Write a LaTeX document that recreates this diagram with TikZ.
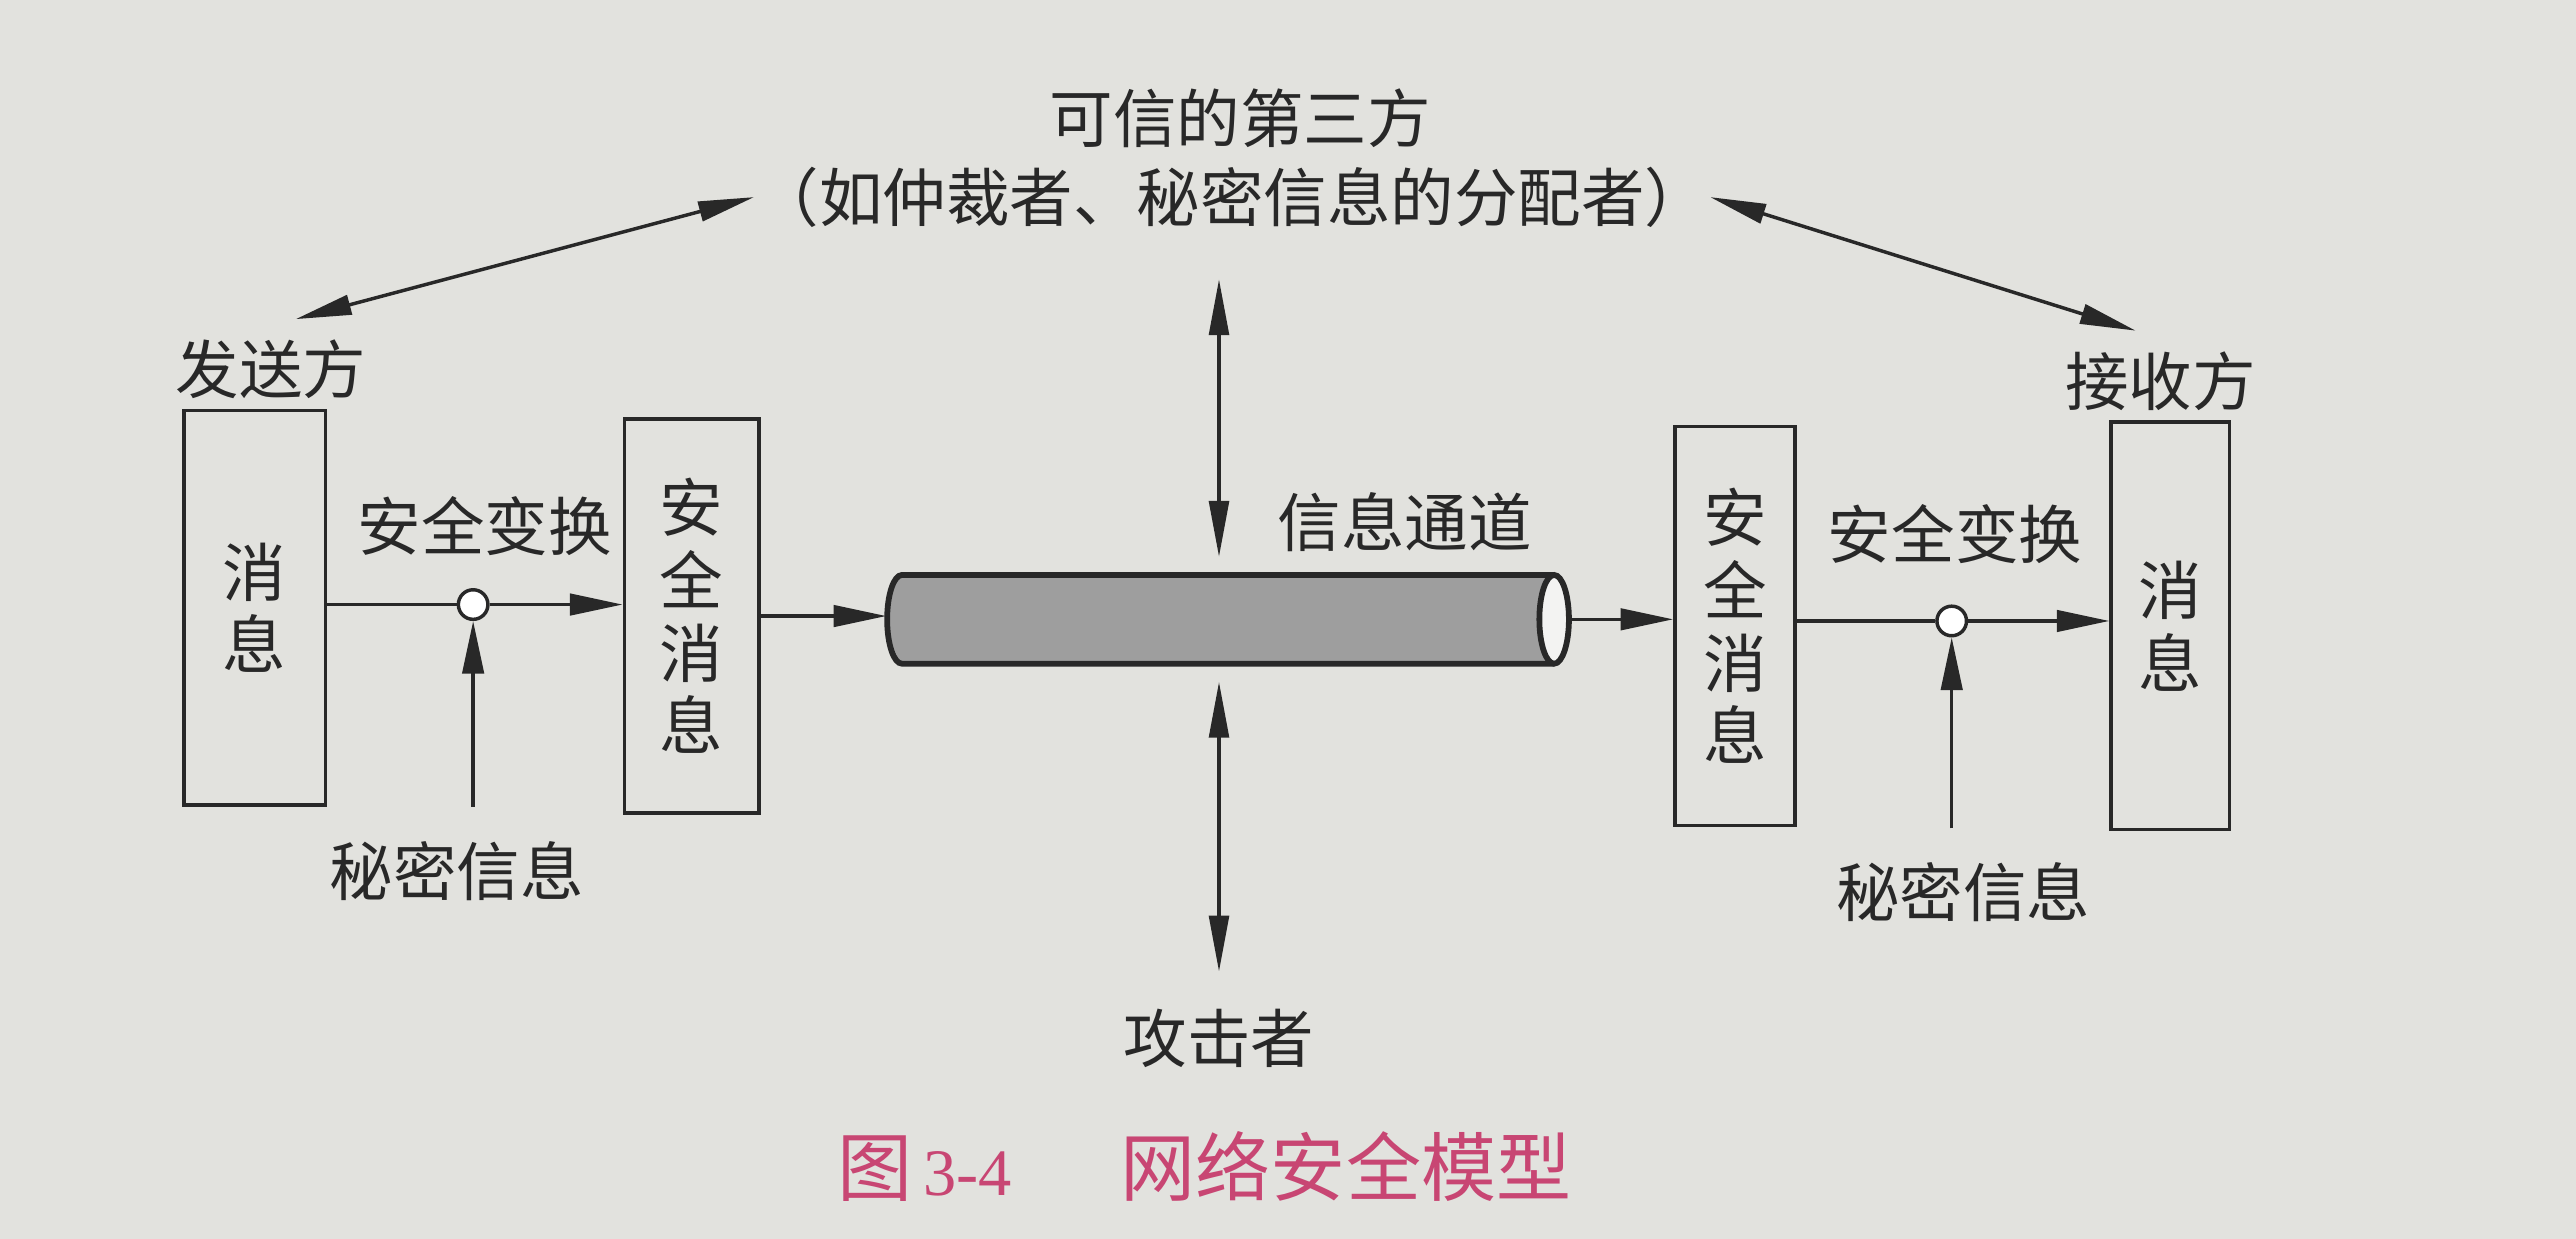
\documentclass[tikz,border=0pt]{standalone}
\usepackage{fontspec}
\newfontfamily\cjk{Noto Sans CJK SC}
\newfontfamily\capnum{Liberation Serif}
\usetikzlibrary{arrows.meta}
\definecolor{paper}{RGB}{226,226,222}
\definecolor{ink}{RGB}{40,40,40}
\definecolor{capred}{RGB}{200,70,115}
\definecolor{tubegray}{RGB}{158,158,158}

\begin{document}
\begin{tikzpicture}[x=0.1mm, y=-0.1mm, line width=0.6pt, ink,
    every node/.style={font=\cjk\fontsize{11}{12.6}\selectfont, text=ink},
    box/.style={draw, inner sep=0pt, align=center},
    knot/.style={draw, circle, fill=white, minimum size=1.8mm, inner sep=0pt},
    tip/.style={-{Triangle[length=3.2mm, width=1.3mm]}},
    twotip/.style={{Triangle[length=3.4mm, width=1.2mm]}-{Triangle[length=3.4mm, width=1.2mm]}}]
    % paper
    \fill[paper] (0,0) rectangle (1568,754);
    \useasboundingbox (0,0) rectangle (1568,754);

    % third party
    \node (trust) at (755,72) {可信的第三方};
    \node (trustnote) [inner sep=0pt] at (750,120) {（如仲裁者、秘密信息的分配者）};
    \node (sender) at (165,225) {发送方};
    \node (receiver) at (1315,232) {接收方};

    % sender side
    \node (msgL) [box, minimum width=8.6mm, minimum height=24mm] at (155,370) {消\\息};
    \node (xfL) [knot] at (288,368) {};
    \node (xfLlabel) at (295,320) {安全变换};
    \node (keyL) at (278,530) {秘密信息};
    \node (smL) [box, minimum width=8.2mm, minimum height=24mm] at (421,375) {安\\全\\消\\息};

    % channel
    \node (chan) [minimum width=41.5mm, minimum height=5.4mm, inner sep=0pt] at (748,377) {};
    \fill[tubegray] (946,350) -- (549,350) arc[start angle=270, end angle=90, x radius=9, y radius=27] -- (946,404) -- cycle;
    \draw[line width=1pt] (946,350) -- (549,350) arc[start angle=270, end angle=90, x radius=9, y radius=27] -- (946,404);
    \draw[line width=1pt, fill=paper!40!white] (946,377) ellipse [x radius=9, y radius=27];
    \node (chanlabel) at (855,318) {信息通道};
    \coordinate (tpt) at (742,170);
    \node (attacker) at (742,632) {攻击者};

    % receiver side
    \node (smR) [box, minimum width=7.3mm, minimum height=24.3mm] at (1056,381) {安\\全\\消\\息};
    \node (xfR) [knot] at (1188,378) {};
    \node (xfRlabel) at (1190,325) {安全变换};
    \node (keyR) at (1195,543) {秘密信息};
    \node (msgR) [box, minimum width=7.2mm, minimum height=24.8mm] at (1321,381) {消\\息};

    % connectors
    \draw (msgL.east |- xfL) -- (xfL.west);
    \draw[tip] (xfL.east) -- (xfL.east -| smL.west);
    \draw[tip, shorten <=0.8mm] (xfL |- keyL.north) -- (xfL.south);
    \draw[tip] (smL.east) -- (smL.east -| chan.west);
    \draw[tip] (chan.east) -- (chan.east -| smR.west);
    \draw (smR.east |- xfR) -- (xfR.west);
    \draw[tip] (xfR.east) -- (xfR.east -| msgR.west);
    \draw[tip, shorten <=0.8mm] (xfR |- keyR.north) -- (xfR.south);

    \draw[twotip] (trustnote.west) -- ([xshift=1.5mm]sender.north);
    \draw[twotip] (trustnote.east) -- ([xshift=-1.5mm]receiver.north);
    \draw[twotip, shorten >=1mm] (tpt) -- (chan.north -| tpt);
    \draw[twotip, shorten <=1mm, shorten >=1mm] (chan.south -| attacker) -- (attacker.north);

    % caption
    \node (cap) [font=\cjk\fontsize{13}{15}\selectfont, text=capred] at (733,710)
        {图\hspace{0.15em}{\capnum\fontsize{11.5}{14}\selectfont 3-4}\hspace{1.45em}网络安全模型};
\end{tikzpicture}
\end{document}
